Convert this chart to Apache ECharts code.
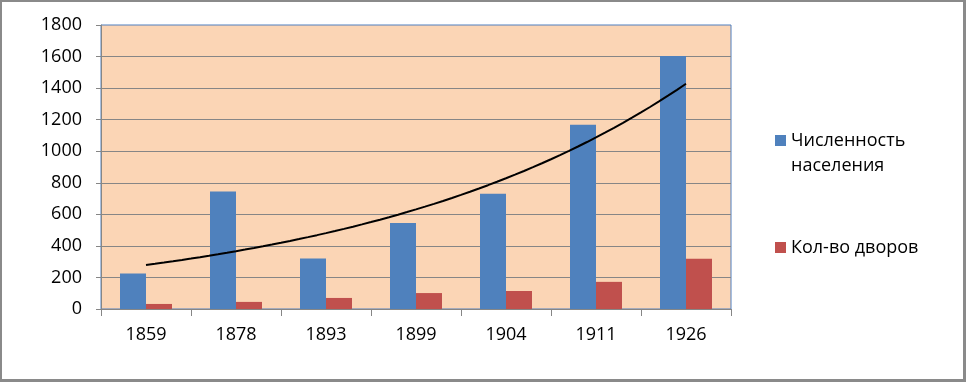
<!DOCTYPE html>
<html>
<head>
<meta charset="utf-8">
<script src="https://cdn.jsdelivr.net/npm/echarts@6/dist/echarts.min.js"></script>
<style>
html,body{margin:0;padding:0;background:#fff;}
#wrap{position:absolute;left:0;top:0;width:966px;height:382px;box-sizing:border-box;border:2px solid #8a8a8a;border-right-width:3px;border-bottom-width:3px;}
#chart{position:absolute;left:0;top:0;width:966px;height:382px;}
</style>
</head>
<body>
<div id="chart"></div>
<div id="wrap"></div>
<script>
const years = ['1859', '1878', '1893', '1899', '1904', '1911', '1926'];
const population = [225, 745, 320, 545, 730, 1168, 1603];
const households = [32, 45, 70, 101, 114, 172, 318];
const seriesNames = ['Численность\nнаселения', 'Кол-во дворов'];
const yTicks = [0, 200, 400, 600, 800, 1000, 1200, 1400, 1600, 1800];

// Exponential trendline (least squares on ln y, like the spreadsheet's trendline)
const n = population.length;
const ts = population.map((_, i) => i + 1);
const lns = population.map(v => Math.log(v));
const tm = ts.reduce((a, b) => a + b, 0) / n;
const lm = lns.reduce((a, b) => a + b, 0) / n;
let sxy = 0, sxx = 0;
for (let i = 0; i < n; i++) { sxy += (ts[i] - tm) * (lns[i] - lm); sxx += (ts[i] - tm) * (ts[i] - tm); }
const b = sxy / sxx;
const lnA = lm - b * tm;
const trend = [];
for (let k = 0; k <= 60; k++) {
  const t = 1 + k * (n - 1) / 60;
  trend.push([t - 0.5, Math.exp(lnA + b * t)]);
}

const font = '"Open Sans", "Noto Sans", sans-serif';
const fs = 18;
const chart = echarts.init(document.getElementById('chart'), null, { renderer: 'canvas' });
chart.setOption({
  animation: false,
  textStyle: { fontFamily: font },
  grid: {
    left: 101, right: 235, top: 25, bottom: 73,
    show: true, backgroundColor: '#FBD5B5', borderColor: '#4F7FBF', borderWidth: 1
  },
  legend: [
    {
      data: [{ name: seriesNames[0] }],
      formatter: name => '\n' + name,
      orient: 'vertical', left: 775, top: 103, padding: 0,
      itemWidth: 11, itemHeight: 11, icon: 'rect',
      textStyle: { fontFamily: font, fontSize: fs, color: '#000', lineHeight: 25 }
    },
    {
      data: [{ name: seriesNames[1] }],
      orient: 'vertical', left: 775, top: 235, padding: 0,
      itemWidth: 11, itemHeight: 11, icon: 'rect',
      textStyle: { fontFamily: font, fontSize: fs, color: '#000', lineHeight: 25 }
    }
  ],
  xAxis: [
    {
      type: 'category', data: years,
      axisLine: { lineStyle: { color: '#868686', width: 1 } },
      axisTick: { show: true, length: 7, lineStyle: { color: '#868686' } },
      axisLabel: { color: '#000', fontSize: fs, fontFamily: font, margin: 17 },
      splitLine: { show: false }
    },
    { type: 'value', min: 0, max: years.length, show: false }
  ],
  yAxis: {
    type: 'value', min: yTicks[0], max: yTicks[yTicks.length - 1], interval: yTicks[1] - yTicks[0],
    axisLine: { show: true, lineStyle: { color: '#868686' } },
    axisTick: { show: true, length: 5, lineStyle: { color: '#868686' } },
    axisLabel: { color: '#000', fontSize: fs, fontFamily: font, margin: 19, formatter: v => String(v) },
    splitLine: { show: true, showMaxLine: false, lineStyle: { color: '#868686', width: 1 } }
  },
  series: [
    { name: seriesNames[0], type: 'bar', data: population, barWidth: 26, barGap: '0%', itemStyle: { color: '#4F81BD' } },
    { name: seriesNames[1], type: 'bar', data: households, barWidth: 26, barGap: '0%', itemStyle: { color: '#C0504D' } },
    { name: 'trend', type: 'line', xAxisIndex: 1, data: trend, showSymbol: false, smooth: false,
      lineStyle: { color: '#000', width: 2 }, z: 5, silent: true }
  ]
});
</script>
</body>
</html>
